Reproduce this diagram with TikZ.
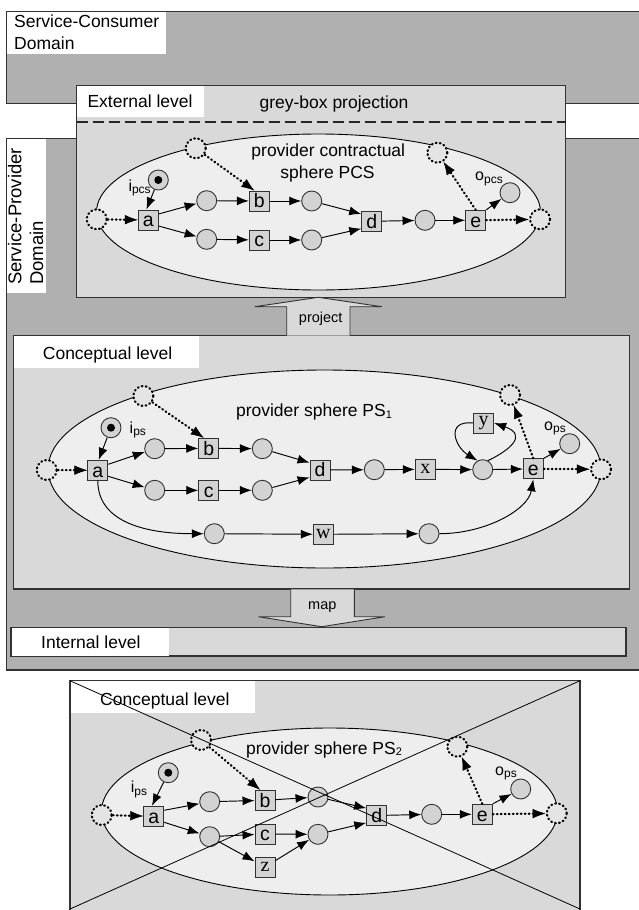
\documentclass[tikz,border=0pt]{standalone}
\usepackage{fontspec}
\setmainfont{Liberation Sans}
\newfontfamily\srffont{Liberation Serif}
\usetikzlibrary{arrows.meta}
\definecolor{domgrey}{RGB}{176,176,176}
\definecolor{lvlgrey}{RGB}{217,217,217}
\definecolor{sphgrey}{RGB}{238,238,238}
\definecolor{nodegrey}{RGB}{211,211,211}
\definecolor{dotgrey}{RGB}{228,228,228}
\definecolor{bordgrey}{RGB}{50,50,50}
\newcommand\mysub[1]{\raisebox{-2.5pt}{\fontsize{12}{12}\selectfont #1}}
\begin{document}
\begin{tikzpicture}[x=1pt,y=-1pt,
  lbl/.style={font=\fontsize{17.5}{21}\selectfont,inner sep=0pt},
  rlbl/.style={font=\fontsize{18.5}{21}\selectfont,inner sep=0pt},
  smalllbl/.style={font=\fontsize{14.5}{17}\selectfont,inner sep=0pt},
  plbl/.style={font=\fontsize{16}{16}\selectfont,inner sep=0pt},
  place/.style={circle,draw=bordgrey,fill=nodegrey,line width=0.9pt,minimum size=20pt,inner sep=0pt},
  tbase/.style={rectangle,draw=bordgrey,fill=nodegrey,line width=0.9pt,minimum size=20pt,inner sep=0pt},
  trans/.style={tbase,font=\fontsize{19.5}{19.5}\selectfont,text height=13.8pt,text depth=0pt},
  strans/.style={tbase,font=\srffont\fontsize{20}{20}\selectfont},
  dplace/.style={circle,minimum size=20pt,inner sep=0pt,draw=black,fill=dotgrey,line width=2.2pt,dash pattern=on 0.8pt off 3.3pt,line cap=round},
  arr/.style={-{Latex[length=12pt,width=9pt]},line width=0.95pt,draw=black},
  darr/.style={-{Latex[length=13pt,width=9.5pt,line width=0.5pt]},line width=2.2pt,dash pattern=on 0.8pt off 3.2pt,line cap=round},
  sphere/.style={draw=black,fill=sphgrey,line width=0.9pt},
  boxline/.style={draw=bordgrey,line width=1.1pt},
  blockarrow/.style={draw=bordgrey,fill=lvlgrey,line width=0.9pt},
  tokdot/.style={fill=black}
]
\useasboundingbox (0,0) rectangle (639,910);
\fill[white] (0,0) rectangle (639,910);

% ---------- domains ----------
\draw[boxline,fill=domgrey] (6.7,11.7) rectangle (650,103.3);
\draw[boxline,fill=domgrey] (6.7,138.3) rectangle (650,670);
\fill[white] (7.2,12.2) rectangle (166,54);
\node[lbl,anchor=base west] (sc1) at (14,27.3) {Service-Consumer};
\node[lbl,anchor=base west] (sc2) at (14,49.3) {Domain};
\fill[white] (7.2,138.8) rectangle (46,293);
\node[rlbl,rotate=90,anchor=base west] (spl1) at (21.3,285) {Service-Provider};
\node[rlbl,rotate=90,anchor=base west] (spl2) at (43,285) {Domain};

% ---------- external level ----------
\draw[boxline,fill=lvlgrey] (76.7,85.3) rectangle (565.7,297.7);
\fill[white] (77.2,85.8) rectangle (204,116.7);
\node[lbl,anchor=base west] (extl) at (87.3,107.3) {External level};
\node[lbl,anchor=base] (gbp) at (334,108) {grey-box projection};
\draw[line width=2pt,dash pattern=on 11pt off 5pt,draw=black!85] (76.7,122.3) -- (565.7,122.3);

% PCS sphere
\draw[sphere] (318.5,212) ellipse [x radius=222, y radius=78];
\node[lbl,anchor=base] (qlab1) at (328.3,156.3) {provider contractual};
\node[lbl,anchor=base] (qlab2) at (327.5,178.3) {sphere PCS};
\node[dplace] (qld) at (96.7,219.3) {};
\node[dplace] (qtl) at (195.7,148.3) {};
\node[dplace] (qtr) at (437.3,152.7) {};
\node[dplace] (qrd) at (540,219.3) {};
\node[place] (qtok) at (158.3,180) {};
\fill[tokdot] (qtok) circle[radius=4];
\node[trans] (qa) at (148.3,220) {a};
\node[place] (qp1) at (206.7,200.7) {};
\node[place] (qp2) at (206.7,239.3) {};
\node[trans] (qb) at (259.3,201) {b};
\node[trans] (qc) at (259.3,240) {c};
\node[place] (qp3) at (311.7,201) {};
\node[place] (qp4) at (311.7,240) {};
\node[trans] (qd) at (371.7,221.3) {d};
\node[place] (qp5) at (425,220.3) {};
\node[trans] (qe) at (475.7,220.3) {e};
\node[place] (qo) at (510,192.7) {};
\node[plbl,anchor=base west] (qil) at (128.3,191) {i\mysub{pcs}};
\node[plbl,anchor=base west] (qol) at (475,180.7) {o\mysub{pcs}};
\draw[darr] (qld) -- (qa);
\draw[darr] (qtl) -- (qb.115);
\draw[darr] (qe.north) -- (qtr);
\draw[darr] (qe) -- (qrd);
\draw[arr] (qtok) -- (qa.100);
\draw[arr] (qa.30) -- (qp1);
\draw[arr] (qa.-30) -- (qp2);
\draw[arr] (qp1) -- (qb);
\draw[arr] (qp2) -- (qc);
\draw[arr] (qb) -- (qp3);
\draw[arr] (qc) -- (qp4);
\draw[arr] (qp3) -- (qd.145);
\draw[arr] (qp4) -- (qd.215);
\draw[arr] (qd) -- (qp5);
\draw[arr] (qp5) -- (qe);
\draw[arr] (qe.45) -- (qo);

% ---------- conceptual level (PS1) ----------
\draw[boxline,fill=lvlgrey] (13.3,335.5) rectangle (629.5,589);
\draw[blockarrow] (286.7,335.7) -- (286.7,306.7) -- (255,306.7) -- (318.3,297.3) -- (381.7,306.7) -- (350,306.7) -- (350,335.7);
\node[smalllbl] (projl) at (320.7,318.5) {project};
\fill[white] (13.8,336) rectangle (199,368);
\node[lbl,anchor=base west] (cl1) at (42.7,359.3) {Conceptual level};

\draw[sphere] (324.5,469) ellipse [x radius=276.5, y radius=99];
\node[lbl,anchor=base] (rlab) at (314,416.7) {provider sphere PS\raisebox{-1.5pt}{\fontsize{11}{11}\selectfont 1}};
\node[dplace] (rld) at (46.7,470) {};
\node[dplace] (rtl) at (143.3,396) {};
\node[dplace] (rtr) at (510,395) {};
\node[dplace] (rrd) at (601,469.3) {};
\node[place] (rtok) at (111,427.7) {};
\fill[tokdot] (rtok) circle[radius=4];
\node[trans] (ra) at (97.8,470.3) {a};
\node[place] (rp1) at (154.7,448.7) {};
\node[place] (rp2) at (154.7,490.3) {};
\node[trans] (rb) at (208.7,448.3) {b};
\node[trans] (rc) at (208.7,490.3) {c};
\node[place] (rp3) at (262.3,448.7) {};
\node[place] (rp4) at (262.3,490.3) {};
\node[trans] (rd) at (320,470) {d};
\node[place] (rp5) at (374.3,469.7) {};
\node[strans] (rx) at (425.3,469.3) {x};
\node[place] (rp6) at (482.7,469.7) {};
\node[strans] (ry) at (483.7,423) {y};
\node[trans] (re) at (533.3,468.8) {e};
\node[place] (ro) at (569.7,443.7) {};
\node[place] (rp7) at (214.3,533.7) {};
\node[strans] (rw) at (323.3,534.3) {w};
\node[place] (rp8) at (429,533.7) {};
\node[plbl,anchor=base west] (ril) at (129.5,433) {i\mysub{ps}};
\node[plbl,anchor=base west] (rol) at (544,430) {o\mysub{ps}};
\draw[darr] (rld) -- (ra);
\draw[darr] (rtl) -- (rb.115);
\draw[darr] (re.north) -- (rtr);
\draw[darr] (re) -- (rrd);
\draw[arr] (rtok) -- (ra.85);
\draw[arr] (ra.30) -- (rp1);
\draw[arr] (ra.-30) -- (rp2);
\draw[arr] (rp1) -- (rb);
\draw[arr] (rp2) -- (rc);
\draw[arr] (rb) -- (rp3);
\draw[arr] (rc) -- (rp4);
\draw[arr] (rp3) -- (rd.145);
\draw[arr] (rp4) -- (rd.215);
\draw[arr] (rd) -- (rp5);
\draw[arr] (rp5) -- (rx);
\draw[arr] (rx) -- (rp6);
\draw[arr] (rp6) -- (re);
\draw[arr] (re.45) -- (ro);
\draw[arr] (rp6.60) .. controls (510,450) and (528,435) .. (ry.east);
\draw[arr] (ry.west) .. controls (445,420) and (455,447) .. (rp6.120);
\draw[arr] (ra.south) .. controls (97.8,524) and (150,533.7) .. (rp7.west);
\draw[arr] (rp7) -- (rw);
\draw[arr] (rw) -- (rp8);
\draw[arr] (rp8.east) .. controls (485,533.7) and (528,510) .. (re.south);

% ---------- internal level ----------
\draw[blockarrow] (290.7,589.3) -- (290.7,616.7) -- (258.3,616.7) -- (321.7,626.7) -- (385,616.7) -- (354.3,616.7) -- (354.3,589.3);
\node[smalllbl] (mapl) at (322.3,607.5) {map};
\draw[boxline,fill=lvlgrey] (11,627.7) rectangle (626,656);
\fill[white] (11.5,628.2) rectangle (169,655.5);
\node[lbl,anchor=base west] (il) at (41,648.3) {Internal level};

% ---------- crossed-out PS2 ----------
\coordinate (xtl) at (70,680.7);
\coordinate (xtr) at (580,680.7);
\coordinate (xbl) at (70,909);
\coordinate (xbr) at (580,909);
\draw[boxline,fill=lvlgrey] (70,680.7) rectangle (580,915);
\fill[white] (70.5,681.2) rectangle (255,713);
\node[lbl,anchor=base west] (cl2) at (100,705) {Conceptual level};

\draw[sphere] (329.5,811.5) ellipse [x radius=228, y radius=83.5];
\node[lbl,anchor=base] (slab) at (324,754) {provider sphere PS\raisebox{-1.5pt}{\fontsize{11}{11}\selectfont 2}};
\node[dplace] (sld) at (101.7,815) {};
\node[dplace] (stl) at (201,740) {};
\node[dplace] (str) at (457.3,746.7) {};
\node[dplace] (srd) at (556.7,813.3) {};
\node[place] (stok) at (168.3,772.7) {};
\fill[tokdot] (stok) circle[radius=4];
\node[trans] (sa) at (153.8,816.3) {a};
\node[place] (sp1) at (209.7,801.7) {};
\node[place] (sp2) at (209.7,836.7) {};
\node[trans] (sb) at (265,800.3) {b};
\node[trans] (sc) at (265,834) {c};
\node[strans] (sz) at (265,867) {z};
\node[place] (sp3) at (318,797) {};
\node[place] (sp4) at (318,834.3) {};
\node[trans] (sd) at (376.7,815.5) {d};
\node[place] (sp5) at (431.7,814.3) {};
\node[trans] (se) at (482.3,814.3) {e};
\node[place] (so) at (520.7,789) {};
\node[plbl,anchor=base west] (sil) at (130.7,792.7) {i\mysub{ps}};
\node[plbl,anchor=base west] (sol) at (495,775) {o\mysub{ps}};
\draw[darr] (sld) -- (sa);
\draw[darr] (stl) -- (sb.115);
\draw[darr] (se.north) -- (str);
\draw[darr] (se) -- (srd);
\draw[arr] (stok) -- (sa.100);
\draw[arr] (sa.30) -- (sp1);
\draw[arr] (sa.-30) -- (sp2);
\draw[arr] (sp1) -- (sb);
\draw[arr] (sp2) -- (sc);
\draw[arr] (sp2) -- (sz);
\draw[arr] (sb) -- (sp3);
\draw[arr] (sc) -- (sp4);
\draw[arr] (sz) -- (sp4);
\draw[arr] (sp3) -- (sd.145);
\draw[arr] (sp4) -- (sd.215);
\draw[arr] (sd) -- (sp5);
\draw[arr] (sp5) -- (se);
\draw[arr] (se.45) -- (so);

\draw[line width=0.8pt] (xtl) -- (xbr);
\draw[line width=0.8pt] (xbl) -- (xtr);
\end{tikzpicture}
\end{document}
